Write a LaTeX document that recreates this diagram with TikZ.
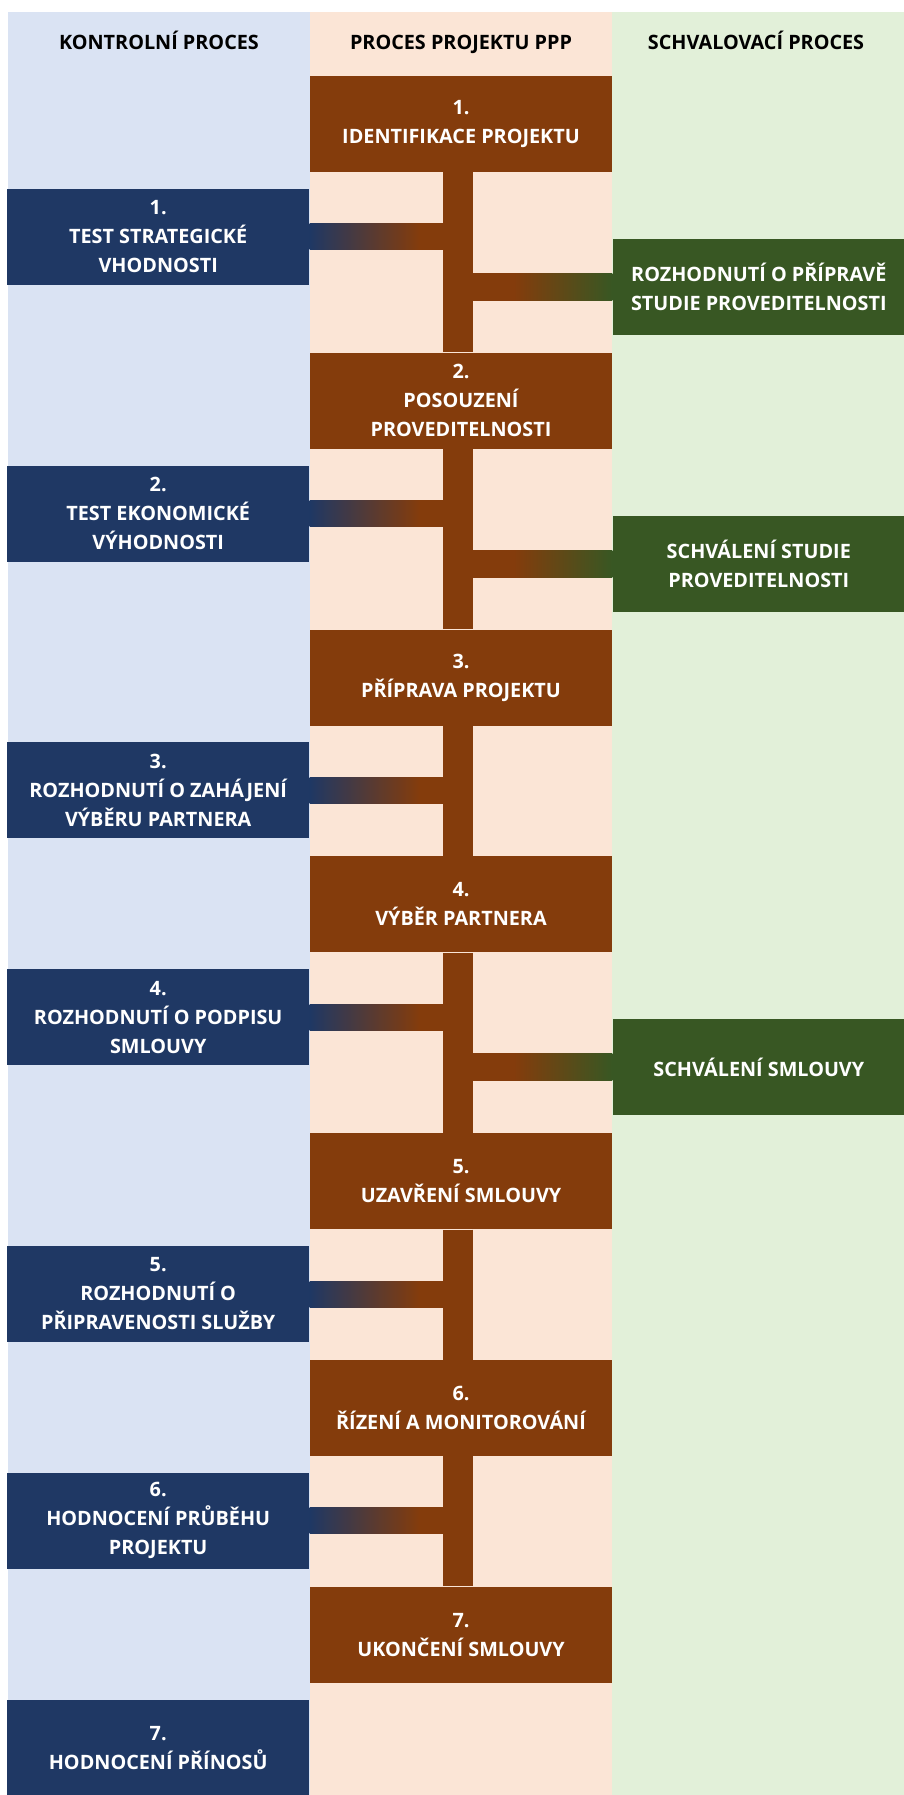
\documentclass[tikz,border=0pt]{standalone}
\usepackage{fontspec}
\setmainfont{Open Sans}
\usetikzlibrary{positioning,calc}
\definecolor{ctlBlue}{RGB}{31,56,100}
\definecolor{pppBrown}{RGB}{132,60,12}
\definecolor{apvGreen}{RGB}{56,87,35}
\definecolor{laneBlue}{RGB}{218,227,243}
\definecolor{lanePeach}{RGB}{251,229,214}
\definecolor{laneGreen}{RGB}{226,240,217}
\pgfdeclarehorizontalshading{ctlfade}{100bp}{color(0bp)=(ctlBlue); color(25bp)=(ctlBlue); color(62bp)=(pppBrown); color(100bp)=(pppBrown)}
\pgfdeclarehorizontalshading{apvfade}{100bp}{color(0bp)=(pppBrown); color(43bp)=(pppBrown); color(75bp)=(apvGreen); color(100bp)=(apvGreen)}
\tikzset{
  box text/.style={align=center,text=white,font=\fontsize{9.9}{14.5}\selectfont\bfseries,inner sep=0pt},
  ppp node/.style={box text,fill=pppBrown,minimum width=151pt,minimum height=48pt},
  ctl node/.style={box text,fill=ctlBlue,minimum width=151pt,minimum height=48pt},
  apv node/.style={box text,fill=apvGreen,minimum width=146pt,minimum height=48pt},
  lane head/.style={anchor=base,font=\fontsize{9.9}{14.5}\selectfont\bfseries,text=black},
  spine/.style={draw=pppBrown,line width=15pt},
  ctl branch/.style={shading=ctlfade},
  apv branch/.style={shading=apvfade}
}
\begin{document}
\begin{tikzpicture}
  \useasboundingbox (0,0) rectangle (452pt,-897.5pt);
  % lanes
  \fill[laneBlue] (4pt,-6pt) rectangle (155pt,-897.5pt);
  \fill[lanePeach] (155pt,-6pt) rectangle (306pt,-897.5pt);
  \fill[laneGreen] (306pt,-6pt) rectangle (452pt,-897.5pt);
  \node[lane head] (headCtl) at (79.5pt,-24.5pt) {KONTROLNÍ PROCES};
  \node[lane head] (headPpp) at (230.5pt,-24.5pt) {PROCES PROJEKTU PPP};
  \node[lane head] (headApv) at (378pt,-24.5pt) {SCHVALOVACÍ PROCES};
  % project process
  \node[ppp node] (pp1) at (230.5pt,-62pt) {1.\\IDENTIFIKACE PROJEKTU};
  \node[ppp node,below=90pt of pp1] (pp2) {2.\\POSOUZENÍ\\PROVEDITELNOSTI};
  \node[ppp node,below=90pt of pp2] (pp3) {3.\\PŘÍPRAVA PROJEKTU};
  \node[ppp node,below=65pt of pp3] (pp4) {4.\\VÝBĚR PARTNERA};
  \node[ppp node,below=90pt of pp4] (pp5) {5.\\UZAVŘENÍ SMLOUVY};
  \node[ppp node,below=65pt of pp5] (pp6) {6.\\ŘÍZENÍ A MONITOROVÁNÍ};
  \node[ppp node,below=65pt of pp6] (pp7) {7.\\UKONČENÍ SMLOUVY};
  % control process
  \node[ctl node,anchor=north east] (ctl1) at ([yshift=-8pt]pp1.south west) {1.\\TEST STRATEGICKÉ\\VHODNOSTI};
  \node[ctl node,anchor=north east] (ctl2) at ([yshift=-8pt]pp2.south west) {2.\\TEST EKONOMICKÉ\\VÝHODNOSTI};
  \node[ctl node,anchor=north east] (ctl3) at ([yshift=-8pt]pp3.south west) {3.\\ROZHODNUTÍ O ZAHÁJENÍ\\VÝBĚRU PARTNERA};
  \node[ctl node,anchor=north east] (ctl4) at ([yshift=-8pt]pp4.south west) {4.\\ROZHODNUTÍ O PODPISU\\SMLOUVY};
  \node[ctl node,anchor=north east] (ctl5) at ([yshift=-8pt]pp5.south west) {5.\\ROZHODNUTÍ O\\PŘIPRAVENOSTI SLUŽBY};
  \node[ctl node,anchor=north east] (ctl6) at ([yshift=-8pt]pp6.south west) {6.\\HODNOCENÍ PRŮBĚHU\\PROJEKTU};
  \node[ctl node,anchor=north east] (ctl7) at ([yshift=-8pt]pp7.south west) {7.\\HODNOCENÍ PŘÍNOSŮ};
  % approval process
  \node[apv node,anchor=south west] (apv1) at ([yshift=8.5pt]pp2.north east) {ROZHODNUTÍ O PŘÍPRAVĚ\\STUDIE PROVEDITELNOSTI};
  \node[apv node,anchor=south west] (apv2) at ([yshift=8.5pt]pp3.north east) {SCHVÁLENÍ STUDIE\\PROVEDITELNOSTI};
  \node[apv node,anchor=south west] (apv3) at ([yshift=8.5pt]pp5.north east) {SCHVÁLENÍ SMLOUVY};
  % branches
  \foreach \c/\p in {ctl1/pp1,ctl2/pp2,ctl3/pp3,ctl4/pp4,ctl5/pp5,ctl6/pp6}
    \shade[ctl branch] ($(\c.east)+(0,6.5pt)$) rectangle ($(\c.east -| \p.south)+(-1.5pt,-6.5pt)$);
  \foreach \g/\p in {apv1/pp1,apv2/pp2,apv3/pp4}
    \shade[apv branch] ($(\g.west -| \p.south)+(-1.5pt,6.75pt)$) rectangle ($(\g.west)+(0,-6.75pt)$);
  % spine
  \foreach \a/\b in {pp1/pp2,pp2/pp3,pp3/pp4,pp4/pp5,pp5/pp6,pp6/pp7}
    \draw[spine] ([xshift=-1.5pt]\a.south) -- ([xshift=-1.5pt]\b.north);
\end{tikzpicture}
\end{document}
